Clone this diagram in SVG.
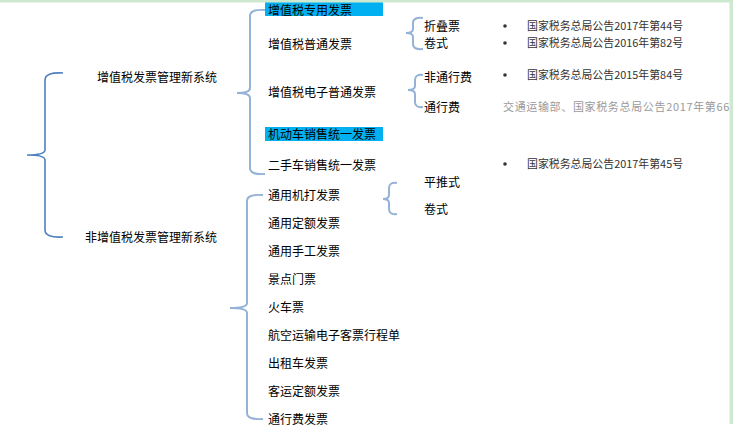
<svg xmlns="http://www.w3.org/2000/svg" width="733" height="435" viewBox="0 0 733 435">
<style>
text{font-family:"Noto Sans CJK SC","Liberation Sans",sans-serif;font-size:12px;fill:#000}
.ref{font-size:10.9px;fill:#333}
.gray{font-size:11px;fill:#9a9a9a}
.b1{fill:none;stroke:#4f81bd;stroke-width:1.6}
.b2{fill:none;stroke:#95b3d7;stroke-width:2}
.hl{fill:#00b0f0}
.dot{fill:#333}
</style>
<rect width="733" height="435" fill="#fff"/>
<g id="connectors">
<path class="b1" d="M63,73 Q45,72 45,80 V150 Q45,155 27,155 Q45,155 45,160 V230 Q45,238 63,237"/>
<path class="b2" d="M265,10 Q250,9 250,16 V88 Q250,93 237,93 Q250,93 250,98 V168 Q250,175 265,174"/>
<path class="b2" d="M263,195 Q247,194 247,201 V303 Q247,308 230,308 Q247,308 247,313 V413 Q247,420 263,419"/>
<path class="b2" d="M423,18 Q413,17 413,23 V29 Q413,33 406,33 Q413,33 413,37 V44 Q413,50 423,49"/>
<path class="b2" d="M423,75 Q415,74 415,80 V86 Q415,90 408,90 Q415,90 415,94 V102 Q415,108 423,107"/>
<path class="b2" d="M397,183 Q389,182 389,188 V195 Q389,199 383,199 Q389,199 389,203 V209 Q389,215 397,214"/>
</g>
<g id="n-vat"><text x="97" y="81.5">增值税发票管理新系统</text></g>
<g id="n-nonvat"><text x="85" y="241.5">非增值税发票管理新系统</text></g>
<g id="n-vat-special"><rect class="hl" x="265" y="2" width="118" height="14"/><text x="268" y="14.5">增值税专用发票</text></g>
<g id="n-vat-normal"><text x="268" y="48.5">增值税普通发票</text></g>
<g id="n-vat-e"><text x="268" y="96.5">增值税电子普通发票</text></g>
<g id="n-motor"><rect class="hl" x="265" y="127" width="118" height="14"/><text x="268" y="138.5">机动车销售统一发票</text></g>
<g id="n-used"><text x="268" y="169.5">二手车销售统一发票</text></g>
<g id="n-fold"><text x="424" y="30.5">折叠票</text></g>
<g id="n-roll1"><text x="424" y="47.5">卷式</text></g>
<g id="n-nontoll"><text x="424" y="81.5">非通行费</text></g>
<g id="n-toll"><text x="424" y="111.5">通行费</text></g>
<g id="n-flat"><text x="424" y="186.5">平推式</text></g>
<g id="n-roll2"><text x="424" y="213.5">卷式</text></g>
<g id="n-gen-machine"><text x="268" y="199.5">通用机打发票</text></g>
<g id="n-gen-quota"><text x="268" y="227.5">通用定额发票</text></g>
<g id="n-gen-hand"><text x="268" y="255.5">通用手工发票</text></g>
<g id="n-scenic"><text x="268" y="283.5">景点门票</text></g>
<g id="n-train"><text x="268" y="311.5">火车票</text></g>
<g id="n-air"><text x="268" y="339.5">航空运输电子客票行程单</text></g>
<g id="n-taxi"><text x="268" y="367.5">出租车发票</text></g>
<g id="n-bus"><text x="268" y="395.5">客运定额发票</text></g>
<g id="n-tollinv"><text x="268" y="423.5">通行费发票</text></g>
<g id="refs">
<circle class="dot" cx="505" cy="26" r="1.8"/><text class="ref" x="527" y="30">国家税务总局公告2017年第44号</text>
<circle class="dot" cx="505" cy="43" r="1.8"/><text class="ref" x="527" y="47">国家税务总局公告2016年第82号</text>
<circle class="dot" cx="505" cy="75" r="1.8"/><text class="ref" x="527" y="79">国家税务总局公告2015年第84号</text>
<circle class="dot" cx="505" cy="164" r="1.8"/><text class="ref" x="527" y="168">国家税务总局公告2017年第45号</text>
<text class="gray" x="503" y="111" textLength="238" lengthAdjust="spacing">交通运输部、国家税务总局公告2017年第66号</text>
</g>
<rect x="0" y="0" width="733" height="2.5" fill="#cde9d0"/>
<rect x="729.5" y="0" width="3.5" height="424" fill="#cde9d0"/>
</svg>
